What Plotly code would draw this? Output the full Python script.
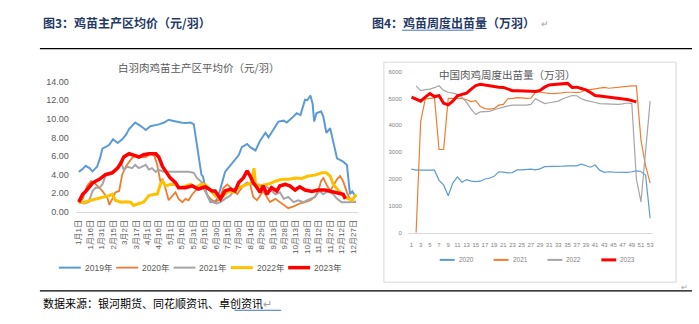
import plotly.graph_objects as go

# ---------------- Figure 3: 白羽肉鸡苗主产区平均价（元/羽） ----------------
TICK_DAYS = list(range(0, 361, 15))
TICK_TEXT = ["1月1日", "1月16日", "1月31日", "2月15日", "3月2日", "3月17日", "4月1日",
             "4月16日", "5月1日", "5月16日", "5月31日", "6月15日", "6月30日", "7月15日",
             "7月30日", "8月14日", "8月29日", "9月13日", "9月28日", "10月13日", "10月28日",
             "11月12日", "11月27日", "12月12日", "12月27日"]

d2019 = [0, 5, 9, 14, 18, 24, 28, 31, 36, 40, 45, 51, 57, 62, 66, 70, 74, 81, 88, 94, 100, 105,
         112, 118, 123, 127, 134, 140, 147, 151, 155, 158, 161, 163, 168, 173, 178, 181, 186, 192,
         197, 201, 206, 210, 214, 221, 225, 232, 238, 245, 249, 256, 262, 269, 273, 280, 286, 291,
         295, 297, 300, 304, 307, 309, 312, 318, 321, 325, 330, 332, 339, 347, 352, 356, 359, 364]
v2019 = [4.3, 4.6, 4.95, 4.7, 4.35, 4.85, 5.8, 6.8, 7.0, 7.2, 7.8, 7.4, 7.8, 8.3, 8.9, 9.3, 9.6,
         9.25, 8.8, 9.2, 9.3, 9.4, 9.6, 9.9, 9.8, 9.7, 9.6, 9.55, 9.6, 9.4, 7.1, 5.5, 4.0, 3.8, 1.9,
         1.05, 1.1, 1.3, 2.5, 4.3, 4.8, 5.1, 5.6, 6.1, 6.95, 7.3, 6.95, 6.6, 7.65, 8.5, 8.0, 8.85,
         9.7, 9.8, 9.6, 10.1, 10.6, 10.4, 11.5, 12.05, 12.0, 12.5, 11.6, 9.7, 10.6, 10.8, 10.25,
         8.5, 9.0, 8.2, 5.75, 5.4, 5.05, 1.9, 2.2, 1.6]

d2020 = [0, 5, 11, 16, 20, 24, 31, 38, 40, 44, 48, 53, 57, 62, 66, 70, 74, 81, 88, 94, 99, 103,
         107, 110, 114, 118, 123, 127, 131, 136, 140, 144, 149, 153, 157, 162, 168, 173, 179, 184,
         190, 195, 201, 208, 214, 221, 225, 229, 234, 238, 242, 247, 251, 258, 264, 271, 275, 282,
         290, 297, 304, 310, 315, 318, 321, 325, 330, 334, 339, 343, 347, 352, 356, 361, 364]
v2020 = [1.05, 1.4, 2.8, 3.3, 3.15, 2.8, 2.25, 1.4, 0.75, 1.4, 2.1, 2.25, 4.0, 4.9, 5.4, 5.8, 6.0,
         5.9, 5.9, 6.25, 6.1, 5.05, 3.3, 3.5, 2.45, 1.25, 1.75, 2.1, 1.4, 1.05, 1.4, 1.25, 1.9,
         2.25, 2.6, 2.8, 1.9, 1.4, 1.05, 1.3, 2.6, 2.95, 2.45, 1.9, 2.6, 3.15, 2.95, 1.6, 1.25,
         1.75, 2.25, 1.6, 1.05, 1.4, 1.05, 0.55, 0.4, 0.6, 0.9, 1.05, 1.25, 1.6, 2.45, 3.3, 3.65,
         2.95, 2.25, 2.8, 3.5, 3.85, 3.3, 2.1, 1.4, 1.05, 1.1]

d2021 = [0, 7, 13, 18, 22, 27, 31, 35, 40, 46, 51, 55, 59, 64, 70, 74, 79, 83, 88, 92, 96, 101,
         105, 110, 118, 127, 136, 144, 151, 155, 162, 166, 171, 175, 181, 186, 192, 199, 205, 212,
         219, 227, 236, 245, 251, 258, 264, 269, 275, 282, 288, 295, 301, 310, 316, 321, 327, 334,
         339, 345, 354, 364]
v2021 = [1.05, 0.9, 1.05, 2.25, 2.6, 2.6, 2.95, 3.85, 4.0, 4.35, 4.85, 5.4, 4.55, 4.85, 4.7, 5.05,
         4.7, 4.85, 5.05, 4.55, 4.7, 4.3, 4.55, 4.35, 4.3, 4.3, 4.3, 4.3, 4.2, 3.65, 3.15, 2.25,
         1.4, 1.05, 0.9, 1.05, 1.4, 1.75, 2.45, 2.6, 3.05, 2.95, 2.95, 2.8, 2.45, 1.9, 2.1, 1.4,
         1.6, 1.05, 1.25, 1.05, 1.3, 1.6, 2.25, 1.9, 2.25, 1.9, 1.4, 1.05, 1.05, 1.1]

d2022 = [0, 7, 16, 24, 31, 40, 44, 48, 55, 62, 68, 72, 79, 85, 92, 99, 103, 107, 110, 114, 120,
         127, 133, 140, 147, 153, 160, 166, 173, 179, 184, 190, 197, 203, 210, 216, 223, 227, 230,
         232, 238, 245, 251, 258, 267, 276, 284, 293, 301, 310, 319, 325, 330, 334, 341, 347, 354,
         359, 364]
v2022 = [1.05, 1.05, 1.25, 1.4, 1.6, 1.75, 1.9, 1.25, 1.05, 1.1, 1.05, 0.7, 0.9, 1.05, 1.75, 1.9,
         1.9, 2.95, 3.3, 2.8, 2.95, 2.95, 2.6, 2.8, 2.95, 2.6, 2.95, 2.95, 2.25, 1.75, 1.45, 1.75,
         2.25, 2.1, 2.6, 2.8, 2.95, 3.15, 4.7, 2.95, 2.8, 2.95, 3.05, 3.3, 3.5, 3.5, 3.65, 3.6,
         3.85, 3.95, 4.2, 4.2, 3.85, 2.95, 2.25, 1.75, 1.4, 1.25, 1.9]

d2023 = [0, 5, 9, 13, 18, 22, 27, 35, 40, 44, 51, 55, 59, 66, 72, 79, 85, 92, 101, 105, 110, 114,
         120, 127, 131, 136, 140, 149, 157, 166, 175, 179, 184, 186, 192, 199, 205, 210, 216, 221,
         225, 229, 234, 238, 242, 247, 253, 260, 264, 271, 277, 284, 290, 297, 306, 314, 323, 330,
         336, 343, 347, 350]
v2023 = [1.05, 1.9, 2.2, 2.6, 3.1, 3.3, 3.5, 4.0, 4.1, 4.2, 4.7, 5.2, 5.9, 6.25, 6.1, 5.9, 6.15,
         6.25, 6.25, 5.9, 4.85, 4.35, 3.65, 3.15, 2.6, 2.6, 2.6, 2.8, 2.45, 2.7, 2.25, 2.25, 1.6,
         1.4, 2.25, 2.45, 2.25, 3.15, 3.65, 4.4, 3.85, 3.15, 2.6, 2.1, 2.8, 1.9, 2.6, 2.25, 2.8,
         2.95, 2.8, 2.35, 2.7, 2.35, 2.2, 2.35, 2.35, 2.2, 2.1, 1.9, 1.9, 1.4]

LEFT_NAMES = ["2019年", "2020年", "2021年", "2022年", "2023年"]
LEFT_X = [d2019, d2020, d2021, d2022, d2023]
LEFT_Y = [v2019, v2020, v2021, v2022, v2023]

# ---------------- Figure 4: 中国肉鸡周度出苗量（万羽） ----------------
WEEKS = list(range(1, 54))
WEEK_TICKS = list(range(1, 54, 2))

w2020 = [2370, 2330, 2330, 2330, 2330, 2330, 1950, 1780, 1380, 1850, 2080, 1880, 1980, 1920, 1900,
         1920, 2000, 2030, 2100, 2270, 2260, 2230, 2240, 2340, 2340, 2350, 2370, 2340, 2380, 2460,
         2460, 2460, 2460, 2480, 2490, 2490, 2490, 2550, 2480, 2440, 2520, 2330, 2250, 2270, 2260,
         2250, 2250, 2250, 2270, 2300, 2280, 2150, 540]
w2021 = [None, 0, 4150, 4980, 5000, 5020, 3100, 3100, 5000, 5000, 5000, 5000, 4950, 4880, 4920,
         4700, 4620, 4600, 4620, 4750, 4780, 4990, 5000, 5030, 5020, 5000, 5010, 5230, 5230, 5200,
         5190, 5180, 5200, 5220, 5230, 5230, 5220, 5240, 5330, 5330, 5350, 5380, 5410, 5380, 5400,
         5420, 5430, 5470, 5470, 5470, 3450, 2500, 1850]
w2022 = [None, 5470, 5290, 5330, 5350, 5400, 5470, 5300, 5230, 5200, 5150, 5050, 4850, 4600, 4400,
         4500, 4520, 4520, 4580, 4630, 4680, 4720, 4750, 4760, 4750, 4750, 4780, 4990, 4900, 4810,
         4840, 4870, 4900, 4990, 5050, 5110, 5100, 4990, 4930, 4880, 4850, 4810, 4800, 4790, 4780,
         4780, 4800, 4830, 4810, 2000, 1150, 3000, 4900]
w2023 = [5050, 4980, 4900, 5050, 5180, 5070, 5100, 4820, 4760, 4900, 5100, 5150, 5200, 5350, 5480,
         5530, 5500, 5470, 5450, 5420, 5410, 5350, 5290, 5290, 5290, 5280, 5270, 5260, 5300, 5420,
         5500, 5520, 5530, 5550, 5560, 5410, 5420, 5370, 5320, 5220, 5110, 5090, 5070, 5060, 5020,
         5000, 4990, 4960, 4920, 4870, None, None, None]

RIGHT_NAMES = ["2020", "2021", "2022", "2023"]
RIGHT_Y = [w2020, w2021, w2022, w2023]

# ---------------- styles ----------------
LEFT_COLORS = ["#5B9BD5", "#ED7D31", "#A5A5A5", "#FFC000", "#FF0000"]
LEFT_WIDTHS = [2.0, 1.8, 2.0, 3.0, 3.5]
RIGHT_COLORS = ["#5B9BD5", "#ED7D31", "#A5A5A5", "#FF0000"]
RIGHT_WIDTHS = [1.2, 1.2, 1.2, 3.0]

W, H = 699, 324
CJK = "Noto Sans CJK SC"
NUM = "Liberation Sans, Noto Sans CJK SC"
GREY = "#595959"


def px(x):
    return x / W


def py(y):
    return 1 - y / H


fig = go.Figure()
for name, xs, ys, c, w in zip(LEFT_NAMES, LEFT_X, LEFT_Y, LEFT_COLORS, LEFT_WIDTHS):
    fig.add_trace(go.Scatter(x=xs, y=ys, mode="lines", name=name, showlegend=False,
                             line=dict(color=c, width=w), xaxis="x", yaxis="y"))
for name, ys, c, w in zip(RIGHT_NAMES, RIGHT_Y, RIGHT_COLORS, RIGHT_WIDTHS):
    fig.add_trace(go.Scatter(x=WEEKS, y=ys, mode="lines", name=name, showlegend=False,
                             connectgaps=False, line=dict(color=c, width=w),
                             xaxis="x2", yaxis="y2"))

shapes = []
annotations = []

HEAD_Y = 18
# header
annotations.append(dict(x=px(40), y=py(HEAD_Y), xref="paper", yref="paper", xanchor="left",
                        yanchor="middle", showarrow=False,
                        text="<b>图3：鸡苗主产区均价（元/羽）</b>",
                        font=dict(family=CJK, size=12, color="#1F3864")))
annotations.append(dict(x=px(370), y=py(HEAD_Y), xref="paper", yref="paper", xanchor="left",
                        yanchor="middle", showarrow=False,
                        text="<b>图4：鸡苗周度出苗量（万羽）</b>",
                        font=dict(family=CJK, size=12, color="#1F3864")))
annotations.append(dict(x=px(540), y=py(HEAD_Y + 1), xref="paper", yref="paper", xanchor="left",
                        yanchor="middle", showarrow=False, text="↵",
                        font=dict(family=CJK, size=9, color="#A0A0A0")))
shapes.append(dict(type="line", xref="paper", yref="paper", x0=px(402), x1=px(474),
                   y0=py(HEAD_Y + 8), y1=py(HEAD_Y + 8), line=dict(color="#4472C4", width=1)))
shapes.append(dict(type="line", xref="paper", yref="paper", x0=px(39), x1=px(693),
                   y0=py(45), y1=py(45), line=dict(color="black", width=1.3)))

# footer
FOOT_Y = 308
shapes.append(dict(type="line", xref="paper", yref="paper", x0=px(39), x1=px(693),
                   y0=py(295), y1=py(295), line=dict(color="black", width=1.3)))
annotations.append(dict(x=px(40), y=py(FOOT_Y), xref="paper", yref="paper", xanchor="left",
                        yanchor="middle", showarrow=False,
                        text="数据来源：银河期货、同花顺资讯、卓创资讯<span style='color:#A0A0A0'>↵</span>",
                        font=dict(family=CJK, size=11, color="#000000")))
shapes.append(dict(type="line", xref="paper", yref="paper", x0=px(234), x1=px(281),
                   y0=py(FOOT_Y + 7), y1=py(FOOT_Y + 7), line=dict(color="#4472C4", width=1)))

# right chart frame
shapes.append(dict(type="rect", xref="paper", yref="paper", x0=px(384), x1=px(677),
                   y0=py(286), y1=py(59), line=dict(color="#D9D9D9", width=1),
                   fillcolor="rgba(0,0,0,0)", layer="below"))
annotations.append(dict(x=px(680), y=py(290), xref="paper", yref="paper", xanchor="left",
                        yanchor="middle", showarrow=False, text="↵",
                        font=dict(family=CJK, size=8, color="#A0A0A0")))

# chart titles
annotations.append(dict(x=px(199), y=py(64), xref="paper", yref="paper", xanchor="center",
                        yanchor="middle", showarrow=False,
                        text="白羽肉鸡苗主产区平均价（元/羽）",
                        font=dict(family=CJK, size=10.5, color=GREY)))
annotations.append(dict(x=px(508), y=py(72), xref="paper", yref="paper", xanchor="center",
                        yanchor="middle", showarrow=False,
                        text="中国肉鸡周度出苗量（万羽）",
                        font=dict(family=CJK, size=10.5, color=GREY)))

# legends (drawn as layout decorations)
LX0, LPITCH, LLEN, LY = 58, 57.5, 22, 271
for i, (name, c, w) in enumerate(zip(LEFT_NAMES, LEFT_COLORS, LEFT_WIDTHS)):
    x0 = LX0 + i * LPITCH
    shapes.append(dict(type="line", xref="paper", yref="paper", x0=px(x0), x1=px(x0 + LLEN),
                       y0=py(LY), y1=py(LY), line=dict(color=c, width=w)))
    annotations.append(dict(x=px(x0 + LLEN + 2), y=py(LY), xref="paper", yref="paper",
                            xanchor="left", yanchor="middle", showarrow=False, text=name,
                            font=dict(family=NUM, size=8.5, color=GREY)))
RX0, RPITCH, RLEN, RY = 440, 54, 15, 263
for i, (name, c, w) in enumerate(zip(RIGHT_NAMES, RIGHT_COLORS, RIGHT_WIDTHS)):
    x0 = RX0 + i * RPITCH
    shapes.append(dict(type="line", xref="paper", yref="paper", x0=px(x0), x1=px(x0 + RLEN),
                       y0=py(RY), y1=py(RY), line=dict(color=c, width=max(w, 2))))
    annotations.append(dict(x=px(x0 + RLEN + 2), y=py(RY), xref="paper", yref="paper",
                            xanchor="left", yanchor="middle", showarrow=False, text=name,
                            font=dict(family=NUM, size=6.5, color="#7F7F7F")))

fig.update_layout(
    width=W, height=H, margin=dict(l=0, r=0, t=0, b=0),
    paper_bgcolor="white", plot_bgcolor="rgba(0,0,0,0)", showlegend=False,
    shapes=shapes, annotations=annotations,
    xaxis=dict(domain=[px(75), px(358)], range=[-3.93, 366.5], anchor="y",
               tickmode="array", tickvals=TICK_DAYS, ticktext=TICK_TEXT, tickangle=-90,
               showgrid=False, zeroline=False, showline=True, linecolor="#D9D9D9",
               linewidth=1, ticks="", ticklabelstandoff=4,
               tickfont=dict(family=NUM, size=8, color=GREY)),
    yaxis=dict(domain=[py(213.5), py(79)], range=[0, 14], anchor="x",
               tickmode="linear", tick0=0, dtick=2, tickformat=".2f",
               showgrid=False, zeroline=False, showline=False, ticks="",
               ticklabelstandoff=6, tickfont=dict(family=NUM, size=9, color=GREY)),
    xaxis2=dict(domain=[px(408), px(654)], range=[0.2, 53.65], anchor="y2",
                tickmode="array", tickvals=WEEK_TICKS, tickangle=0,
                showgrid=False, zeroline=False, showline=True, linecolor="#D9D9D9",
                linewidth=1, ticks="", ticklabelstandoff=6,
                tickfont=dict(family=NUM, size=6, color="#7F7F7F")),
    yaxis2=dict(domain=[py(235), py(68.7)], range=[0, 6000], anchor="x2",
                tickmode="linear", tick0=0, dtick=1000,
                showgrid=False, zeroline=False, showline=False, ticks="",
                ticklabelstandoff=5, tickfont=dict(family=NUM, size=6, color="#7F7F7F")),
)

fig.write_html("out.html")
